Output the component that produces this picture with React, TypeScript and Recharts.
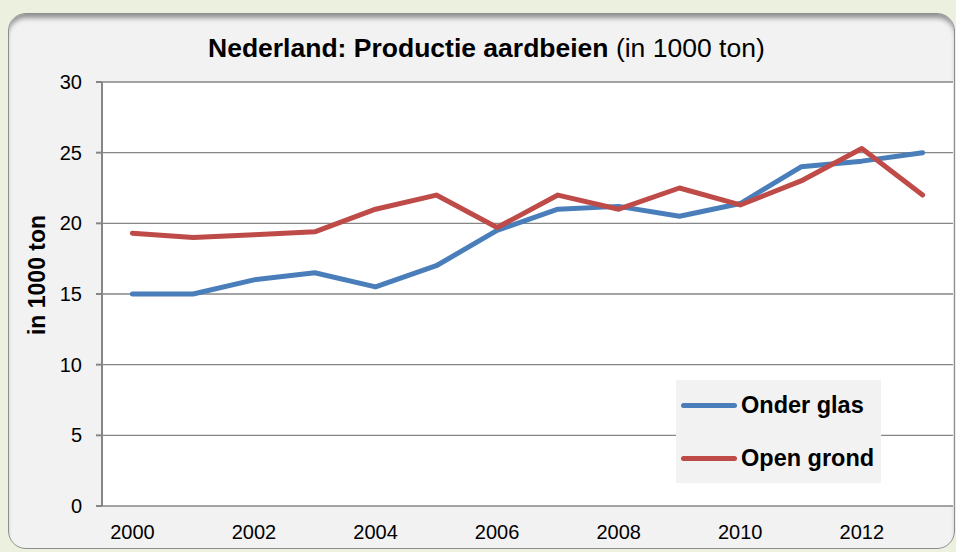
import { CartesianGrid, Legend, Line, LineChart, XAxis, YAxis } from "recharts";

const years = [2000, 2001, 2002, 2003, 2004, 2005, 2006, 2007, 2008, 2009, 2010, 2011, 2012, 2013];
const onderGlas = [15, 15, 16, 16.5, 15.5, 17, 19.5, 21, 21.2, 20.5, 21.4, 24, 24.4, 25];
const openGrond = [19.3, 19, 19.2, 19.4, 21, 22, 19.7, 22, 21, 22.5, 21.3, 23, 25.3, 22];
const yTicks = [0, 5, 10, 15, 20, 25, 30];
const yearLabels = [2000, 2002, 2004, 2006, 2008, 2010, 2012];
const yearBounds = [...years.map((y) => y - 0.5), years[years.length - 1] + 0.5];

const data = years.map((year, i) => ({
  year,
  onderGlas: onderGlas[i],
  openGrond: openGrond[i],
}));

const FONT = '"Liberation Sans", Arial, sans-serif';
const AXIS_GRAY = "#868686";

function LegendBox({ payload }: { payload?: readonly { value?: string; color?: string }[] }) {
  return (
    <div
      style={{
        width: 205,
        height: 103,
        background: "#F2F2F2",
        paddingTop: 9,
        boxSizing: "border-box",
      }}
    >
      {(payload ?? []).map((entry) => (
        <div
          key={entry.value}
          style={{ display: "flex", alignItems: "center", height: 33, marginBottom: 20 }}
        >
          <div
            style={{
              width: 56,
              height: 5,
              borderRadius: 3,
              background: entry.color,
              marginLeft: 5,
              marginRight: 4,
              flexShrink: 0,
            }}
          />
          <span
            style={{
              fontFamily: FONT,
              fontWeight: "bold",
              fontSize: 23.5,
              color: "#000",
              whiteSpace: "nowrap",
            }}
          >
            {entry.value}
          </span>
        </div>
      ))}
    </div>
  );
}

export default function App() {
  return (
    <div
      style={{
        position: "absolute",
        left: 0,
        top: 0,
        width: 956,
        height: 552,
        background: "#EBF1DE",
        overflow: "hidden",
      }}
    >
      <div
        style={{
          position: "absolute",
          left: 8,
          top: 13,
          width: 947,
          height: 536,
          boxSizing: "border-box",
          border: "1.5px solid #8E8E8E",
          borderRadius: 18,
          background: "#F2F2F2",
          boxShadow: "inset 0 6px 5px -2px rgba(0,0,0,0.4)",
        }}
      />
      <div
        style={{
          position: "absolute",
          left: 208,
          top: 35,
          fontFamily: FONT,
          fontSize: 26.5,
          lineHeight: "26.5px",
          whiteSpace: "nowrap",
          color: "#000",
        }}
      >
        <b>Nederland: Productie aardbeien</b> (in 1000 ton)
      </div>
      <div
        style={{
          position: "absolute",
          left: 37,
          top: 275,
          transform: "translate(-50%, -50%) rotate(-90deg)",
          fontFamily: FONT,
          fontWeight: "bold",
          fontSize: 23,
          lineHeight: "23px",
          whiteSpace: "nowrap",
          color: "#000",
        }}
      >
        in 1000 ton
      </div>
      <LineChart
        width={956}
        height={552}
        data={data}
        margin={{ top: 82, right: 3, bottom: 0, left: 0 }}
        style={{ position: "absolute", left: 0, top: 0 }}
        accessibilityLayer={false}
      >
        <CartesianGrid vertical={false} stroke={AXIS_GRAY} strokeWidth={1.3} fill="#FFFFFF" />
        <XAxis
          xAxisId="bounds"
          dataKey="year"
          type="number"
          domain={[yearBounds[0], yearBounds[yearBounds.length - 1]]}
          ticks={yearBounds}
          tickFormatter={() => ""}
          height={0}
          tickSize={6}
          axisLine={{ stroke: AXIS_GRAY, strokeWidth: 2 }}
          tickLine={{ stroke: AXIS_GRAY, strokeWidth: 2 }}
        />
        <XAxis
          xAxisId="labels"
          dataKey="year"
          type="number"
          domain={[yearBounds[0], yearBounds[yearBounds.length - 1]]}
          ticks={yearLabels}
          height={46}
          tickSize={0}
          tickMargin={19}
          axisLine={false}
          tickLine={false}
          tick={{ fill: "#000", fontSize: 20, fontFamily: FONT }}
        />
        <YAxis
          domain={[0, 30]}
          ticks={yTicks}
          width={102}
          tickSize={6}
          tickMargin={14}
          axisLine={{ stroke: AXIS_GRAY, strokeWidth: 2 }}
          tickLine={{ stroke: AXIS_GRAY, strokeWidth: 2 }}
          tick={{ fill: "#000", fontSize: 20, fontFamily: FONT }}
        />
        <Legend
          layout="vertical"
          align="center"
          verticalAlign="middle"
          wrapperStyle={{ left: 676, top: 380, width: 205, height: 103 }}
          content={({ payload }) => <LegendBox payload={payload} />}
        />
        <Line
          xAxisId="bounds"
          dataKey="onderGlas"
          name="Onder glas"
          stroke="#4A7EBB"
          strokeWidth={5}
          strokeLinecap="round"
          strokeLinejoin="round"
          dot={false}
          isAnimationActive={false}
        />
        <Line
          xAxisId="bounds"
          dataKey="openGrond"
          name="Open grond"
          stroke="#BE4B48"
          strokeWidth={5}
          strokeLinecap="round"
          strokeLinejoin="round"
          dot={false}
          isAnimationActive={false}
        />
      </LineChart>
    </div>
  );
}
